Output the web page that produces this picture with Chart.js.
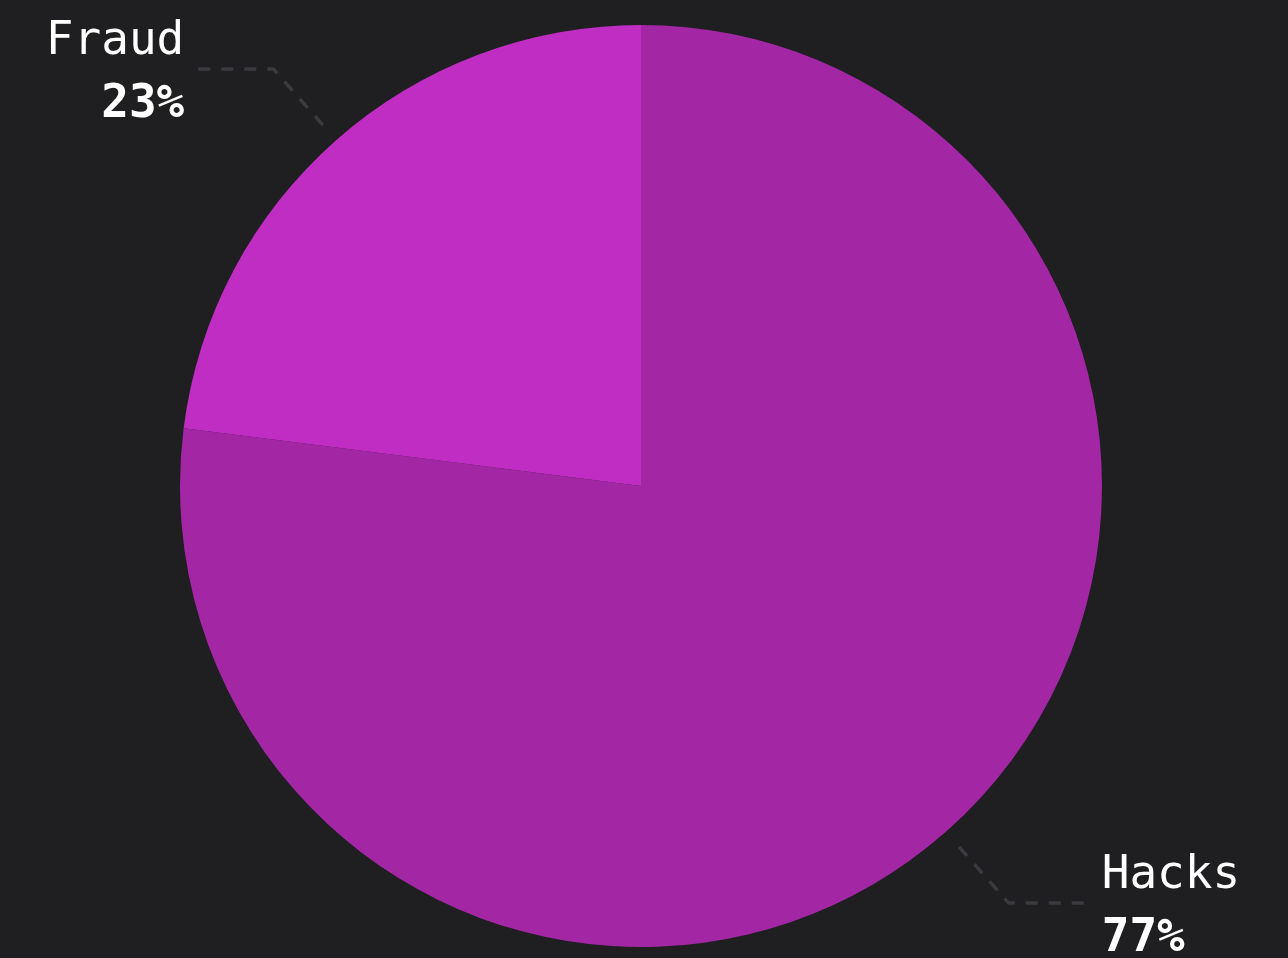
<!DOCTYPE html>
<html>
<head>
<meta charset="utf-8">
<script src="https://cdn.jsdelivr.net/npm/chart.js@4/dist/chart.umd.min.js"></script>
<style>
    html, body { margin: 0; padding: 0; background: #1f1f21; }
    #wrap { width: 1288px; height: 958px; }
</style>
</head>
<body>
<div id="wrap"><canvas id="lossChart"></canvas></div>
<script>
// Dados do gráfico
const categories = ['Hacks', 'Fraud'];
const shares = [77, 23];
const sliceColors = ['#a327a5', '#bf2dc3'];

const labelFont = "'DejaVu Sans Mono', 'Liberation Mono', monospace";

// Plugin para rótulos com linha de chamada tracejada
const calloutLabels = {
    id: 'calloutLabels',
    afterDatasetsDraw(chart) {
        const ctx = chart.ctx;
        const meta = chart.getDatasetMeta(0);
        meta.data.forEach((arc, i) => {
            const { x, y, startAngle, endAngle, outerRadius } = arc.getProps(['x', 'y', 'startAngle', 'endAngle', 'outerRadius'], true);
            const mid = (startAngle + endAngle) / 2;
            const cos = Math.cos(mid), sin = Math.sin(mid);
            const x1 = x + cos * (outerRadius + 20), y1 = y + sin * (outerRadius + 20);
            const x2 = x + cos * (outerRadius + 95), y2 = y + sin * (outerRadius + 95);
            const right = cos >= 0;
            const x3 = x2 + (right ? 80 : -78);

            ctx.save();
            ctx.strokeStyle = '#3a3a3f';
            ctx.lineWidth = 3.5;
            ctx.setLineDash([12, 11]);
            ctx.beginPath();
            ctx.moveTo(x1, y1);
            ctx.lineTo(x2, y2);
            ctx.lineTo(x3, y2);
            ctx.stroke();
            ctx.setLineDash([]);

            ctx.fillStyle = '#ffffff';
            ctx.textAlign = right ? 'left' : 'right';
            ctx.textBaseline = 'alphabetic';
            const tx = x3 + (right ? 13 : -11);
            ctx.font = '46px ' + labelFont;
            ctx.fillText(categories[i], tx, y2 - 15);
            ctx.font = 'bold 46px ' + labelFont;
            ctx.fillText(shares[i] + '%', tx, y2 + 48);
            ctx.restore();
        });
    }
};

new Chart(document.getElementById('lossChart'), {
    type: 'pie',
    data: {
        labels: categories,
        datasets: [{
            data: shares,
            backgroundColor: sliceColors,
            borderWidth: 0,
            hoverOffset: 0
        }]
    },
    options: {
        responsive: true,
        maintainAspectRatio: false,
        animation: false,
        events: [],
        layout: {
            padding: { top: 25, bottom: 11, left: 0, right: 6 }
        },
        plugins: {
            legend: { display: false },
            tooltip: { enabled: false }
        }
    },
    plugins: [calloutLabels]
});
</script>
</body>
</html>
